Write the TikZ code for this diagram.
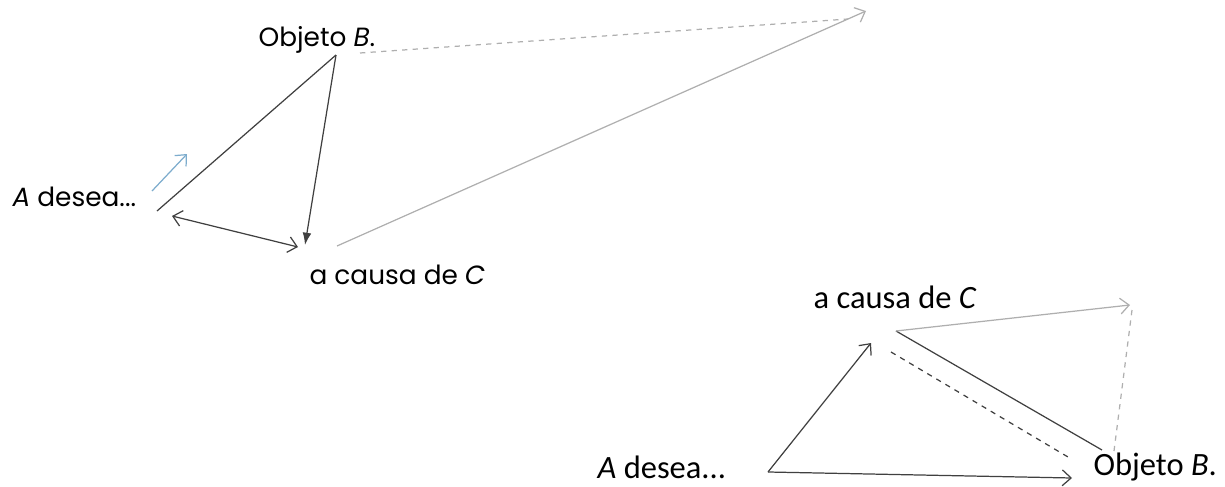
\documentclass[tikz,border=0pt]{standalone}
\usepackage{fontspec}
\setmainfont{Carlito}
\newfontfamily\geofont{Poppins}
\usetikzlibrary{arrows.meta}
\definecolor{linegray}{RGB}{64,64,64}
\definecolor{lightgray}{RGB}{175,175,175}
\definecolor{paleblue}{RGB}{125,172,205}
\begin{document}
\begin{tikzpicture}[x=0.02cm, y=-0.02cm,
    line width=0.7pt,
    >={Straight Barb[length=5pt, width=9pt]},
    toplabel/.style={font=\geofont\fontsize{15}{18}\selectfont, inner sep=0pt, anchor=west},
    botlabel/.style={font=\fontsize{18.5}{22}\selectfont, inner sep=0pt, anchor=west},
    dark/.style={draw=linegray},
    pale/.style={draw=lightgray}]
    \useasboundingbox (0,0) rectangle (1225,487);

    % Premier triangle
    \node[toplabel] (objB) at (258,40) {Objeto \textit{B}.};
    \node[toplabel] (desA) at (12,197) {\textit{A} desea...};
    \node[toplabel] (causaC) at (309,275) {a causa de \textit{C}};

    \coordinate (apex) at (336,55);
    \coordinate (lowA) at (157,211);
    \coordinate (tipC) at (305,245);
    \coordinate (dblA) at (172,216);
    \coordinate (dblC) at (298,247);
    \coordinate (blueS) at (152,191);
    \coordinate (blueE) at (187,154);
    \coordinate (grayS) at (337,246);
    \coordinate (far) at (866,11);
    \coordinate (dashS) at (360,53);
    \coordinate (dashE) at (848,19);

    \draw[dark] (apex) -- (lowA);
    \draw[dark, -{Latex[length=7pt, width=5pt]}] (apex) -- (tipC);
    \draw[dark, <->] (dblA) -- (dblC);
    \draw[paleblue, ->] (blueS) -- (blueE);
    \draw[pale, ->] (grayS) -- (far);
    \draw[pale, dashed] (dashS) -- (dashE);

    % Segundo triangulo
    \node[botlabel] (causaC2) at (813,297) {a causa de \textit{C}};
    \node[botlabel] (desA2) at (597,467) {\textit{A} desea...};
    \node[botlabel] (objB2) at (1093,467) {Objeto \textit{B}.};

    \coordinate (orig) at (768,472);
    \coordinate (upC) at (871,343);
    \coordinate (toB) at (1072,478);
    \coordinate (topC) at (896,331);
    \coordinate (endB) at (1102,450);
    \coordinate (dashC) at (891,352);
    \coordinate (dashB) at (1068,457);
    \coordinate (corner) at (1130,305);
    \coordinate (vS) at (1132,310);
    \coordinate (vE) at (1114,451);

    \draw[dark, ->] (orig) -- (upC);
    \draw[dark, ->] (orig) -- (toB);
    \draw[dark] (topC) -- (endB);
    \draw[dark, dashed] (dashC) -- (dashB);
    \draw[pale, ->] (topC) -- (corner);
    \draw[pale, dashed] (vS) -- (vE);
\end{tikzpicture}
\end{document}
